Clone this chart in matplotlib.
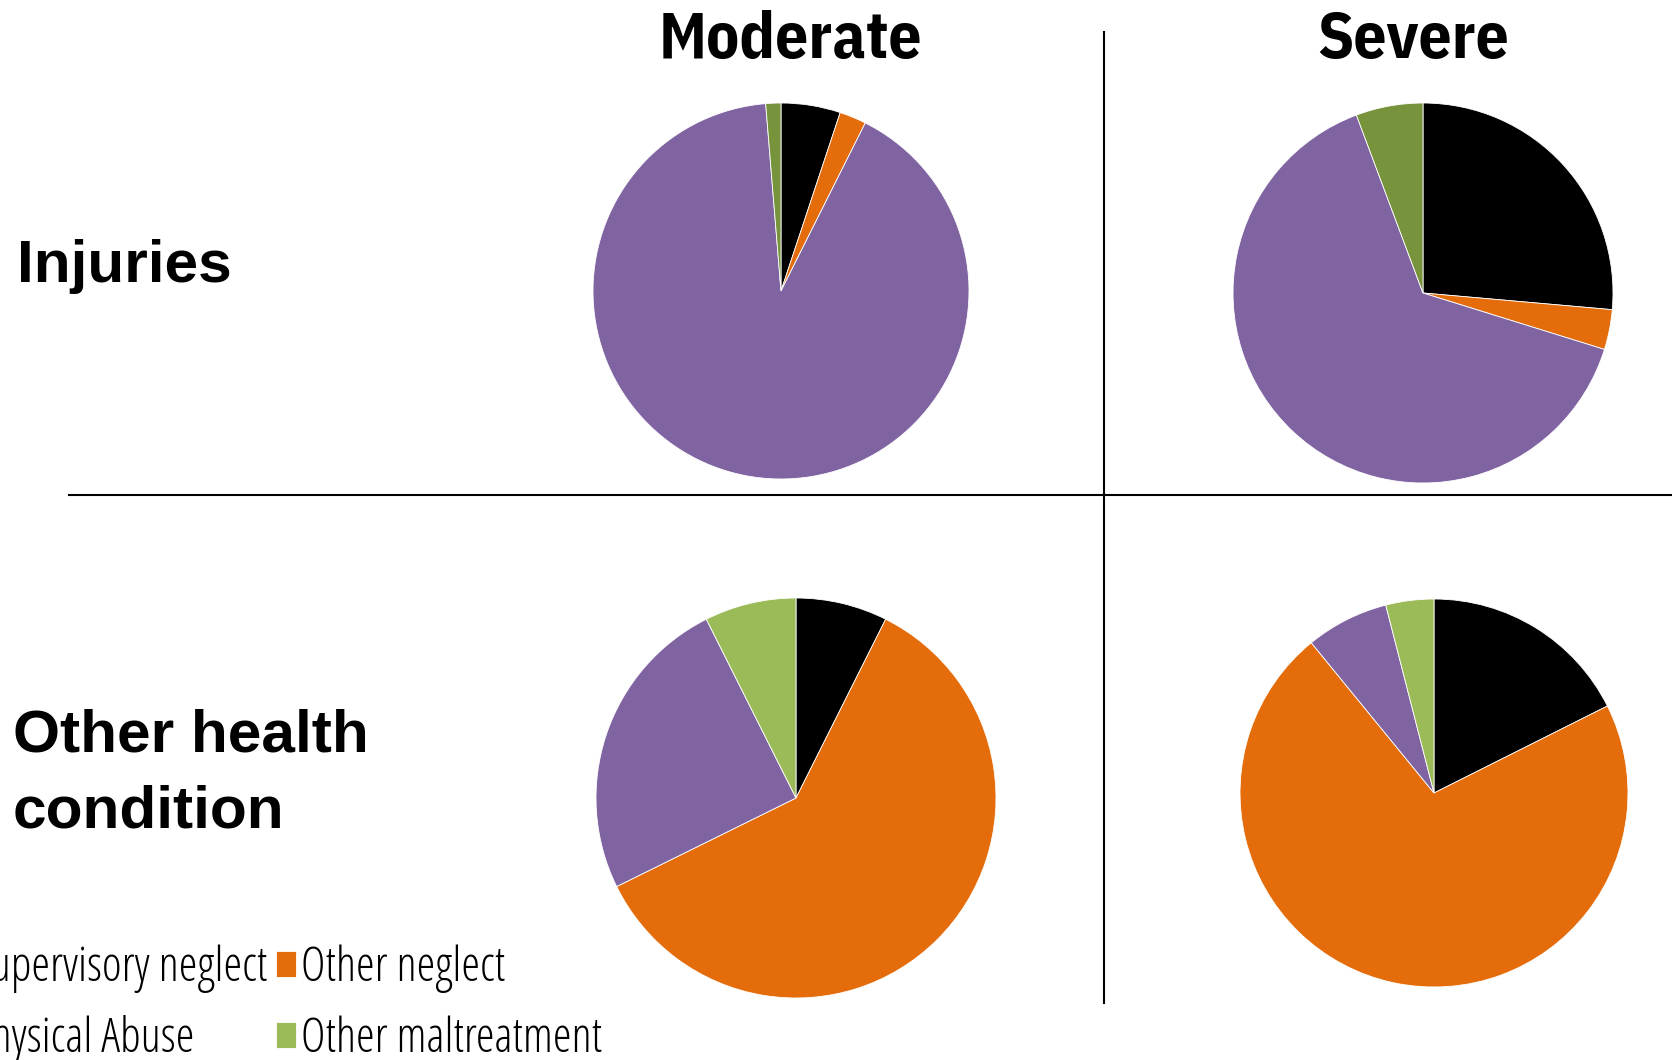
"""
Pie grid: maltreatment type by severity (Moderate / Severe) for
Injuries and Other health condition.
"""

import matplotlib
matplotlib.use("Agg")
from matplotlib import pyplot as plt
from matplotlib.lines import Line2D
from matplotlib.font_manager import FontProperties

# Data (percent of cases)
categories = ["Supervisory neglect", "Other neglect", "Physical Abuse", "Other maltreatment"]
severity_labels = ["Moderate", "Severe"]
outcome_labels = ["Injuries", "Other health\ncondition"]

moderate_injuries = [5.1, 2.3, 91.3, 1.3]
severe_injuries = [26.4, 3.4, 64.5, 5.7]
moderate_other = [7.4, 60.3, 24.9, 7.4]
severe_other = [17.6, 71.5, 6.9, 4.0]

colors_top = ["#000000", "#E46C0A", "#8064A2", "#77933C"]
colors_bottom = ["#000000", "#E46C0A", "#8064A2", "#9BBB59"]

W, H = 1672, 1060
TITLE_FONT = ["IBM Plex Sans Condensed", "DejaVu Sans"]
ROW_FONT = ["Liberation Sans", "DejaVu Sans"]


def _axes_for(fig, cx, cy, r):
    """Axes box (pixels, top-left origin) holding a pie of radius r at (cx, cy)."""
    return fig.add_axes([(cx - r) / W, (H - cy - r) / H, 2 * r / W, 2 * r / H])


def _draw_pie(ax, values, colors):
    wedges, _ = ax.pie(values, colors=colors, startangle=90, counterclock=False,
                       radius=1, wedgeprops=dict(edgecolor="white", linewidth=0.6))
    ax.set_xlim(-1, 1)
    ax.set_ylim(-1, 1)
    ax.set_aspect("equal")
    ax.axis("off")
    return wedges


fig = plt.figure(figsize=(W / 100, H / 100), dpi=100)
fig.patch.set_facecolor("white")

# pies: (values, colors, center x, center y, radius) in pixels
pies = [
    (moderate_injuries, colors_top, 781, 291, 188),
    (severe_injuries, colors_top, 1423, 293, 190),
    (moderate_other, colors_bottom, 796, 798, 200),
    (severe_other, colors_bottom, 1434, 793, 194),
]
legend_wedges = None
for vals, cols, cx, cy, r in pies:
    ax = _axes_for(fig, cx, cy, r)
    w = _draw_pie(ax, vals, cols)
    if cols is colors_bottom and legend_wedges is None:
        legend_wedges = w

# separators
fig.add_artist(Line2D([69 / W, 1], [1 - 495 / H, 1 - 495 / H], color="black", lw=1.5,
                      transform=fig.transFigure))
fig.add_artist(Line2D([1104 / W, 1104 / W], [1 - 32 / H, 1 - 1003 / H], color="black", lw=1.5,
                      transform=fig.transFigure))

# column titles
fig.text(790 / W, 1 - 58 / H, severity_labels[0], ha="center", va="baseline",
         fontsize=47, fontweight="bold", family=TITLE_FONT)
fig.text(1413 / W, 1 - 58 / H, severity_labels[1], ha="center", va="baseline",
         fontsize=47, fontweight="bold", family=TITLE_FONT)

# row labels
fig.text(17 / W, 1 - 282 / H, outcome_labels[0], ha="left", va="baseline",
         fontsize=43.5, fontweight="bold", family=ROW_FONT)
first, second = outcome_labels[1].split("\n")
fig.text(13 / W, 1 - 752 / H, first, ha="left", va="baseline",
         fontsize=43.5, fontweight="bold", family=ROW_FONT)
fig.text(13 / W, 1 - 827 / H, second, ha="left", va="baseline",
         fontsize=43.5, fontweight="bold", family=ROW_FONT)

# legend, partly cut off on the left like the source
legend_prop = FontProperties(family="Open Sans", stretch="condensed", weight="light", size=34)
order = [0, 2, 1, 3]
leg_kw = dict(ncol=2, loc="upper left", frameon=False, borderpad=0, borderaxespad=0,
              handlelength=0.43, handleheight=0.47, handletextpad=0.11,
              columnspacing=0.18, labelspacing=0.47, prop=legend_prop)
anchor = [-90 / W, 1 - 945 / H]
leg = fig.legend([legend_wedges[i] for i in order], [categories[i] for i in order],
                 bbox_to_anchor=tuple(anchor), **leg_kw)

# shift legend so "Other neglect" sits where it does in the source
fig.canvas.draw()
ext = leg.get_texts()[2].get_window_extent()
dx = (301 - ext.x0) / W
dy = ((H - 993) - ext.y0) / H
leg.remove()
leg = fig.legend([legend_wedges[i] for i in order], [categories[i] for i in order],
                 bbox_to_anchor=(anchor[0] + dx, anchor[1] + dy), **leg_kw)

fig.savefig("out.png", dpi=100)
plt.close(fig)
